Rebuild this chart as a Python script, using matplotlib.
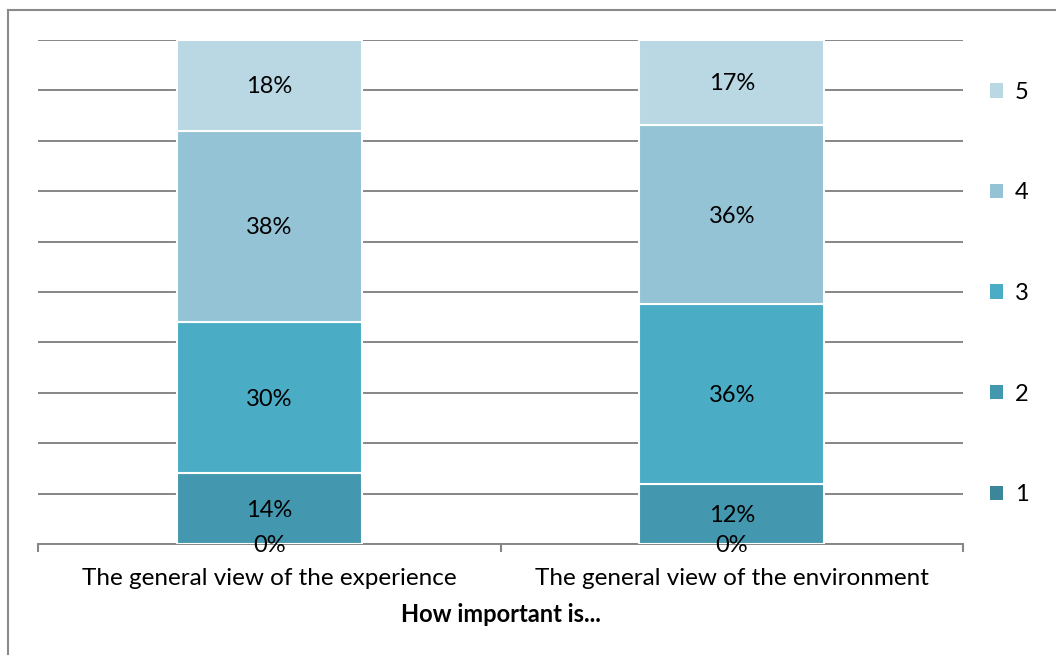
import numpy as np
import matplotlib.pyplot as plt
from matplotlib.lines import Line2D
from matplotlib.patches import Patch

plt.rcParams['font.family'] = ['Lato', 'DejaVu Sans']

categories = ["The general view of the experience", "The general view of the environment"]
levels = ["1", "2", "3", "4", "5"]
# percentage answering each level, per category
values = {
    "1": [0, 0],
    "2": [14, 12],
    "3": [30, 36],
    "4": [38, 36],
    "5": [18, 17],
}
colors = ["#3b8699", "#4397ae", "#4bacc6", "#93c3d5", "#bad7e4"]

fig = plt.figure(figsize=(10.56, 6.61), dpi=100)
ax = fig.add_axes([38 / 1056, 1 - 544 / 661, (963 - 38) / 1056, 504 / 661])

x = np.arange(len(categories))
totals = np.sum([values[k] for k in levels], axis=0)
bottom = np.zeros(len(categories))
for lvl, col in zip(levels, colors):
    v = np.array(values[lvl], dtype=float)
    share = v / totals * 100
    ax.bar(x, share, width=0.4, bottom=bottom, color=col, edgecolor="white",
           linewidth=1.5, zorder=3)
    for xi, b, s, lab in zip(x, bottom, share, v):
        ax.text(xi, b + s / 2 - 0.3, f"{lab:.0f}%", ha="center", va="center",
                fontsize=17, color="black", zorder=4)
    bottom += share

ax.set_xlim(-0.5, 1.5)
ax.set_ylim(0, 100)
ax.set_yticks(np.arange(0, 101, 10))
ax.yaxis.grid(True, color="#868686", linewidth=1.4, zorder=0)
ax.tick_params(axis="y", left=False, labelleft=False)
ax.set_xticks(x)
ax.set_xticklabels(categories, fontsize=17.5)
ax.tick_params(axis="x", length=0, pad=17)
# category separator ticks
ax.set_xticks([-0.5, 0.5, 1.5], minor=True)
ax.tick_params(axis="x", which="minor", length=6, width=1.5, color="#868686",
               direction="out")
for side in ["top", "right", "left"]:
    ax.spines[side].set_visible(False)
ax.spines["bottom"].set_color("#868686")
ax.spines["bottom"].set_linewidth(1.4)
ax.set_xlabel("How important is...", fontsize=17, fontweight="bold", labelpad=10)

handles = [Patch(facecolor=c, edgecolor="none") for c in colors[::-1]]
fig.legend(handles, levels[::-1], loc="upper left", bbox_to_anchor=(978 / 1056, 1 - 70 / 661),
           frameon=False, fontsize=17, handlelength=0.55, handleheight=0.55,
           handletextpad=0.5, labelspacing=3.37, borderpad=0)

# outer chart border
fig.add_artist(Line2D([8 / 1056, 8 / 1056], [0.01, 1 - 10 / 661], color="#8a8a8a", linewidth=1.5))
fig.add_artist(Line2D([8 / 1056, 1.0], [1 - 10 / 661, 1 - 10 / 661], color="#8a8a8a", linewidth=1.5))

fig.savefig("out.png", dpi=100)
